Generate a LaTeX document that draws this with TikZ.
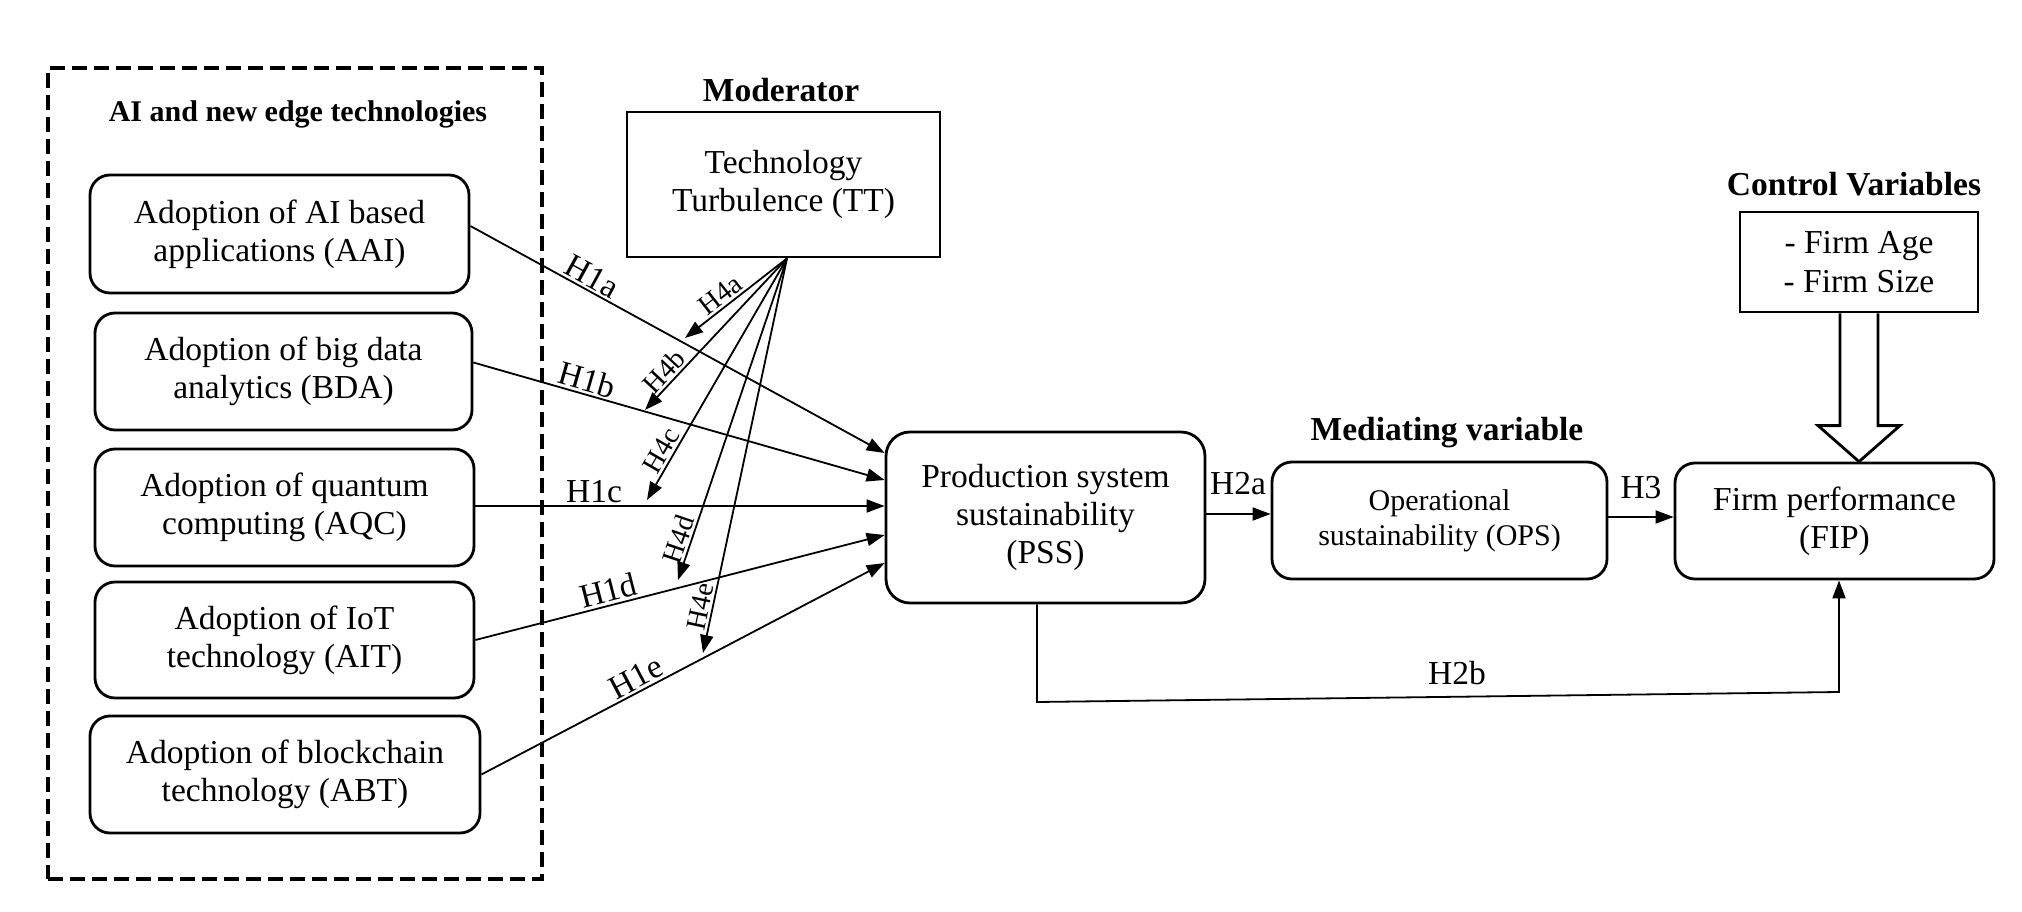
\documentclass[tikz,border=0pt]{standalone}
\usepackage{fontspec}
\setmainfont{Liberation Serif}
\usetikzlibrary{arrows.meta,calc}
\begin{document}
\begin{tikzpicture}[x=1pt,y=-1pt,
  txt/.style={font=\fontsize{33.5}{38}\selectfont},
  rbox/.style={draw,line width=2.8pt,rounded corners=20pt,align=center,txt,inner sep=0pt},
  sbox/.style={draw,line width=2.8pt,align=center,txt,inner sep=0pt},
  head/.style={font=\bfseries\fontsize{33.5}{38}\selectfont,inner sep=0pt},
  conn/.style={line width=1.8pt,-{Triangle[length=18pt,width=13pt]}},
  lab/.style={txt,inner sep=2pt},
  hlab/.style={font=\fontsize{28}{32}\selectfont,inner sep=2pt}]
\useasboundingbox (0,0) rectangle (2022,912);

% frame
\node[draw,line width=4pt,dash pattern=on 15pt off 7pt,minimum width=494pt,minimum height=811pt,inner sep=0pt] (frame) at (295,473.5) {};
\node[head,font=\bfseries\fontsize{30}{34}\selectfont] (hai) at (298,114) {AI and new edge technologies};

% left boxes
\node[rbox,minimum width=379pt,minimum height=118pt] (aai) at (279.5,234) {Adoption of AI based\\applications (AAI)};
\node[rbox,minimum width=377pt,minimum height=117pt] (bda) at (283.5,371.5) {Adoption of big data\\analytics (BDA)};
\node[rbox,minimum width=379pt,minimum height=117pt] (aqc) at (284.5,507.5) {Adoption of quantum\\computing (AQC)};
\node[rbox,minimum width=379pt,minimum height=116pt] (ait) at (284.5,640) {Adoption of IoT\\technology (AIT)};
\node[rbox,minimum width=390pt,minimum height=117pt] (abt) at (285,774.5) {Adoption of blockchain\\technology (ABT)};

% moderator
\node[head] (hmod) at (781,90) {Moderator};
\node[sbox,minimum width=313pt,minimum height=145pt] (tt) at (783.5,184.5) {Technology\\Turbulence (TT)};

% PSS
\node[rbox,rounded corners=24pt,minimum width=319pt,minimum height=171pt] (pss) at (1045.5,517.5) {Production system\\sustainability\\(PSS)};

% OPS
\node[head] (hmed) at (1447,433) {Mediating variable};
\node[rbox,font=\fontsize{30}{35}\selectfont,minimum width=335pt,minimum height=117pt] (ops) at (1439.5,520.5) {Operational\\sustainability (OPS)};

% FIP
\node[rbox,minimum width=319pt,minimum height=116pt] (fip) at (1834.5,521) {Firm performance\\(FIP)};

% control
\node[head] (hctl) at (1854,184) {Control Variables};
\node[sbox,font=\fontsize{33.5}{39}\selectfont,minimum width=238pt,minimum height=100pt] (ctrl) at (1859,262) {- Firm Age\\- Firm Size};

% H1 connectors
\draw[conn] ([yshift=8pt]aai.east) -- node[lab,sloped,above,pos=0.277] (l1a) {H1a} ([yshift=64.5pt]pss.west);
\draw[conn] ([yshift=9pt]bda.east) -- node[lab,sloped,above,pos=0.267] (l1b) {H1b} ([yshift=37.5pt]pss.west);
\draw[conn] ([yshift=1.5pt]aqc.east) -- node[lab,above,pos=0.29] (l1c) {H1c} ([yshift=11.5pt]pss.west);
\draw[conn] (ait.east) -- node[lab,sloped,above,pos=0.334] (l1d) {H1d} ([yshift=-17.5pt]pss.west);
\draw[conn] (abt.east) -- node[lab,sloped,above,pos=0.40] (l1e) {H1e} ([yshift=-45.5pt]pss.west);

% H4 moderator connectors
\coordinate (ttb) at ($(tt.south)+(3.5,0)$);
\coordinate (t4a) at (685,338);
\coordinate (t4b) at (645,410);
\coordinate (t4c) at (647,500);
\coordinate (t4d) at (678,580);
\coordinate (t4e) at (703,653);
\draw[conn] (ttb) -- node[hlab,sloped,above,pos=0.58] {H4a} (t4a);
\draw[conn] (ttb) -- node[hlab,sloped,above,pos=0.80] {H4b} (t4b);
\draw[conn] (ttb) -- node[hlab,sloped,above,pos=0.82] {H4c} (t4c);
\draw[conn] (ttb) -- node[hlab,sloped,above,pos=0.886] {H4d} (t4d);
\draw[conn] (ttb) -- node[hlab,sloped,above,pos=0.889] {H4e} (t4e);

% H2a, H3
\draw[conn] ([yshift=3.5pt]pss.east) -- ([yshift=3.5pt]pss.east -| ops.west);
\node[lab] (l2a) at (1238,484) {H2a};
\draw[conn] ([yshift=3.5pt]ops.east) -- ([yshift=3.5pt]ops.east -| fip.west);
\node[lab] (l3) at (1641,488) {H3};

% H2b
\coordinate (b1) at (1037,702);
\coordinate (b2) at (1839,692);
\draw[conn] (pss.south -| b1) -- (b1) -- (b2) -- (fip.south -| b2);
\node[lab] (l2b) at (1457,673) {H2b};

% hollow arrow control -> FIP
\coordinate (tip) at (ctrl.south |- fip.north);
\draw[line width=2.8pt,fill=white,line join=miter]
  ($(ctrl.south)+(-19,0)$) -- ($(tip)+(-19,-36)$) -- ($(tip)+(-41,-36)$) -- (tip)
  -- ($(tip)+(41,-36)$) -- ($(tip)+(19,-36)$) -- ($(ctrl.south)+(19,0)$);
\end{tikzpicture}
\end{document}
